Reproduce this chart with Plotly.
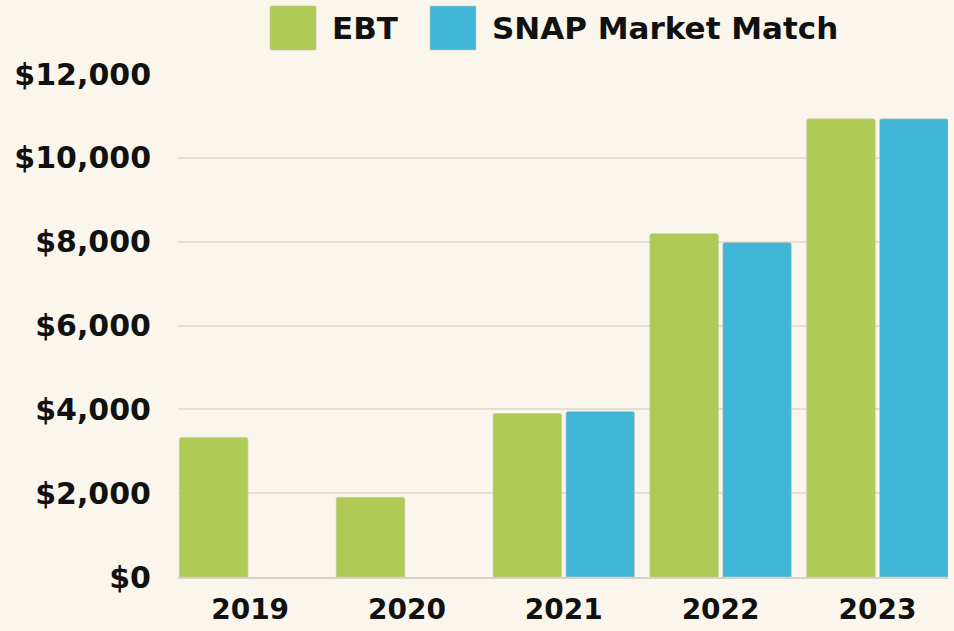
import plotly.graph_objects as go

years = ["2019", "2020", "2021", "2022", "2023"]
ebt = [3330, 1900, 3900, 8190, 10930]
snap = [None, None, 3950, 7980, 10930]
y_ticks = [0, 2000, 4000, 6000, 8000, 10000, 12000]
y_labels = ["$0", "$2,000", "$4,000", "$6,000", "$8,000", "$10,000", "$12,000"]

GREEN = "#AFCB55"
BLUE = "#40B6D6"
BG = "#FAF6EC"
FONT = "DejaVu Sans"

fig = go.Figure()
fig.add_trace(go.Bar(x=years, y=ebt, name="EBT", marker_color=GREEN,
                     marker_line=dict(color="#C9C6B4", width=0.6)))
fig.add_trace(go.Bar(x=years, y=snap, name="SNAP Market Match", marker_color=BLUE,
                     marker_line=dict(color="#C9C6B4", width=0.6)))

fig.update_layout(
    width=954, height=631,
    paper_bgcolor=BG, plot_bgcolor=BG,
    margin=dict(l=178, r=6, t=74, b=54),
    barmode="group", bargap=0.07, bargroupgap=0.06,
    barcornerradius=2,
    showlegend=False,
    font=dict(family=FONT, color="#111111"),
)
fig.update_yaxes(range=[0, 12000], tickvals=y_ticks, ticktext=y_labels,
                 showgrid=True, gridcolor="#E4DFD3", gridwidth=2,
                 zeroline=False, showline=False, ticks="",
                 tickfont=dict(size=30, family=FONT, weight="bold"),
                 ticklabelstandoff=26)
fig.update_xaxes(range=[-0.46, 4.45], showline=True, linecolor="#D6D2C6", linewidth=2,
                 ticks="", tickfont=dict(size=28, family=FONT, weight="bold"),
                 ticklabelstandoff=6)

# legend drawn as swatches + text
legend_items = [("EBT", GREEN, 270, 316), ("SNAP Market Match", BLUE, 430, 476)]
for label, color, x0, x1 in legend_items:
    fig.add_shape(type="rect", xref="paper", yref="paper",
                  x0=(x0 - 178) / 770, x1=(x1 - 178) / 770,
                  y0=(631 - 54 - 50) / 503, y1=(631 - 54 - 6) / 503,
                  fillcolor=color, line=dict(color="#C9C6B4", width=0.6))
    fig.add_annotation(text=label, xref="paper", yref="paper",
                       x=(x1 + 14 - 178) / 770, y=(631 - 54 - 28) / 503,
                       xanchor="left", yanchor="middle", showarrow=False,
                       font=dict(size=31, family=FONT, weight="bold", color="#111111"))

fig.write_html("out.html", config={"displayModeBar": False},
               post_script="document.body.style.margin='0';")
